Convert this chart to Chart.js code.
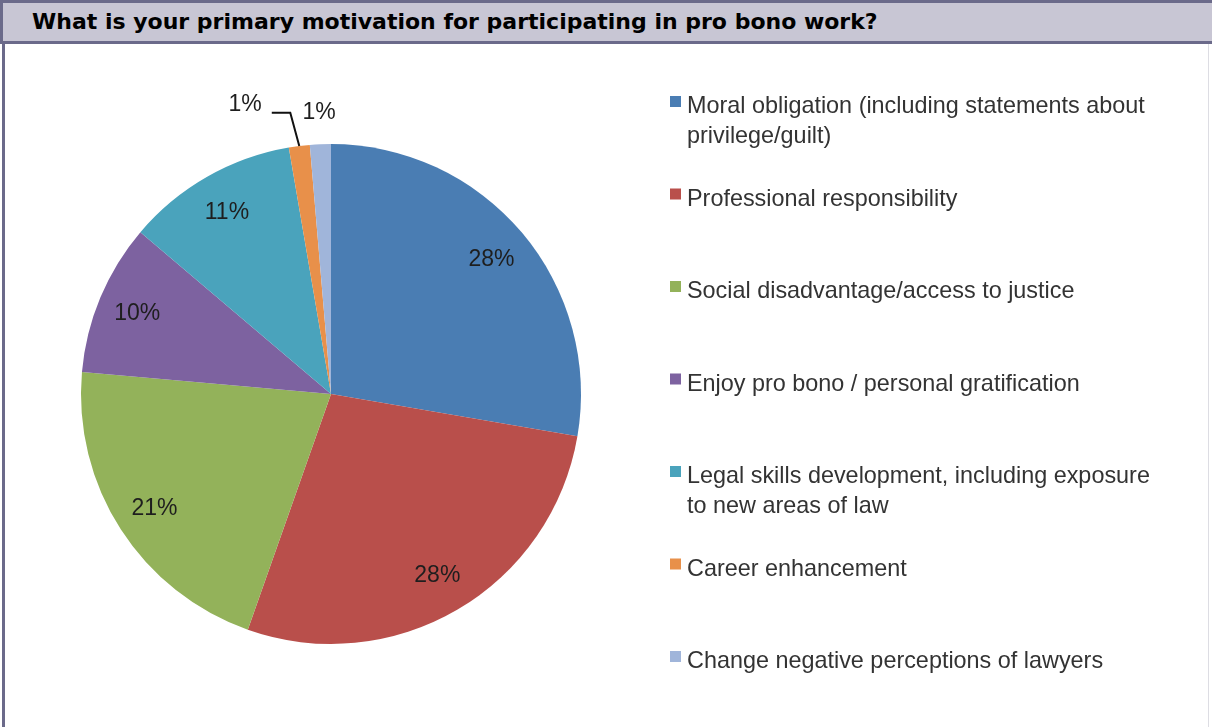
<!DOCTYPE html>
<html>
<head>
<meta charset="utf-8">
<script src="https://cdn.jsdelivr.net/npm/chart.js@4"></script>
<style>
  html, body { margin: 0; padding: 0; background: #fff; }
  body { width: 1212px; height: 727px; position: relative; overflow: hidden; }
  #frame {
    position: absolute; left: 2px; top: 0; width: 1207px; height: 727px;
    border-left: 3px solid #6b6a8a; border-right: 1px solid #dddde3;
    box-sizing: border-box;
  }
  #header {
    position: absolute; left: 0; top: 0; width: 1212px; height: 44px;
    background: #c8c6d4; box-sizing: border-box;
    border-top: 3px solid #6b6a8a; border-bottom: 3px solid #6b6a8a;
    border-left: 3px solid #6b6a8a;
    font-family: "DejaVu Sans", Arial, sans-serif; font-weight: bold;
    font-size: 22px; color: #000; line-height: 38px; padding-left: 29px;
    z-index: 2;
  }
  #wrap { position: absolute; left: 0; top: 0; width: 1212px; height: 727px; }
</style>
</head>
<body>
<div id="frame"></div>
<div id="header">What is your primary motivation for participating in pro bono work?</div>
<div id="wrap"><canvas id="pie"></canvas></div>
<script>
const CATEGORIES = [
  "Moral obligation (including statements about privilege/guilt)",
  "Professional responsibility",
  "Social disadvantage/access to justice",
  "Enjoy pro bono / personal gratification",
  "Legal skills development, including exposure to new areas of law",
  "Career enhancement",
  "Change negative perceptions of lawyers",
];
const SHARES = [27.7, 27.7, 21.0, 9.8, 11.1, 1.35, 1.35];
const COLORS = ["#4a7db3", "#b94f4b", "#93b25a", "#7d62a0", "#4aa3bc", "#e8904a", "#a0b5da"];

const FONT = "'Liberation Sans', Arial, sans-serif";

function wrapText(ctx, text, maxWidth) {
  const words = text.split(" ");
  const lines = [];
  let line = "";
  for (const w of words) {
    const test = line ? line + " " + w : w;
    if (ctx.measureText(test).width > maxWidth && line) {
      lines.push(line);
      line = w;
    } else {
      line = test;
    }
  }
  if (line) lines.push(line);
  return lines;
}

// percentage labels: inside for big slices, outside (with a leader when crowded) for tiny ones
const sliceLabels = {
  id: "sliceLabels",
  afterDatasetsDraw(chart) {
    const ctx = chart.ctx;
    const meta = chart.getDatasetMeta(0);
    const data = chart.data.datasets[0].data;
    const total = data.reduce((a, b) => a + b, 0);
    ctx.save();
    ctx.font = "23px " + FONT;
    ctx.fillStyle = "#1e1e1e";
    ctx.textAlign = "center";
    ctx.textBaseline = "middle";
    const pos = meta.data.map((arc, i) => {
      const p = arc.getProps(["x", "y", "startAngle", "endAngle", "outerRadius"], true);
      const mid = (p.startAngle + p.endAngle) / 2;
      const small = data[i] / total < 0.03;
      const r = p.outerRadius * (small ? 1.13 : 0.84);
      return {
        small, mid, p,
        x: p.x + Math.cos(mid) * r,
        y: p.y + Math.sin(mid) * r + 1,
        text: Math.round((data[i] / total) * 100) + "%",
      };
    });
    pos.forEach((lb, i) => {
      const next = pos[i + 1];
      const w = ctx.measureText(lb.text).width;
      if (lb.small && next && next.small && Math.abs(next.x - lb.x) < w + 6) {
        lb.x -= 50;
        lb.y -= 10;
        const ex = lb.p.x + Math.cos(lb.mid) * lb.p.outerRadius;
        const ey = lb.p.y + Math.sin(lb.mid) * lb.p.outerRadius;
        ctx.strokeStyle = "#111";
        ctx.lineWidth = 2;
        ctx.beginPath();
        ctx.moveTo(lb.x + w / 2 + 10, lb.y + 8);
        ctx.lineTo(ex - 9, lb.y + 8);
        ctx.lineTo(ex, ey);
        ctx.stroke();
      }
      ctx.fillText(lb.text, lb.x, lb.y);
    });
    ctx.restore();
  },
};

// legend on the right, one entry per category
const sideLegend = {
  id: "sideLegend",
  afterDraw(chart) {
    const ctx = chart.ctx;
    const colors = chart.data.datasets[0].backgroundColor;
    ctx.save();
    ctx.font = "23.4px " + FONT;
    ctx.textBaseline = "alphabetic";
    chart.data.labels.forEach((label, i) => {
      const base = 113 + i * 92.5;
      ctx.fillStyle = colors[i];
      ctx.fillRect(670, base - 17, 11, 11);
      ctx.fillStyle = "#333";
      wrapText(ctx, label, 472).forEach((ln, j) => {
        ctx.fillText(ln, 687, base + j * 30);
      });
    });
    ctx.restore();
  },
};

new Chart(document.getElementById("pie"), {
  type: "pie",
  data: {
    labels: CATEGORIES,
    datasets: [{
      data: SHARES,
      backgroundColor: COLORS,
      borderWidth: 0,
      hoverOffset: 0,
    }],
  },
  options: {
    responsive: true,
    maintainAspectRatio: false,
    animation: false,
    layout: { padding: { left: 81, top: 144, right: 631, bottom: 83 } },
    plugins: {
      legend: { display: false },
      tooltip: { enabled: false },
    },
  },
  plugins: [sliceLabels, sideLegend],
});
</script>
</body>
</html>
